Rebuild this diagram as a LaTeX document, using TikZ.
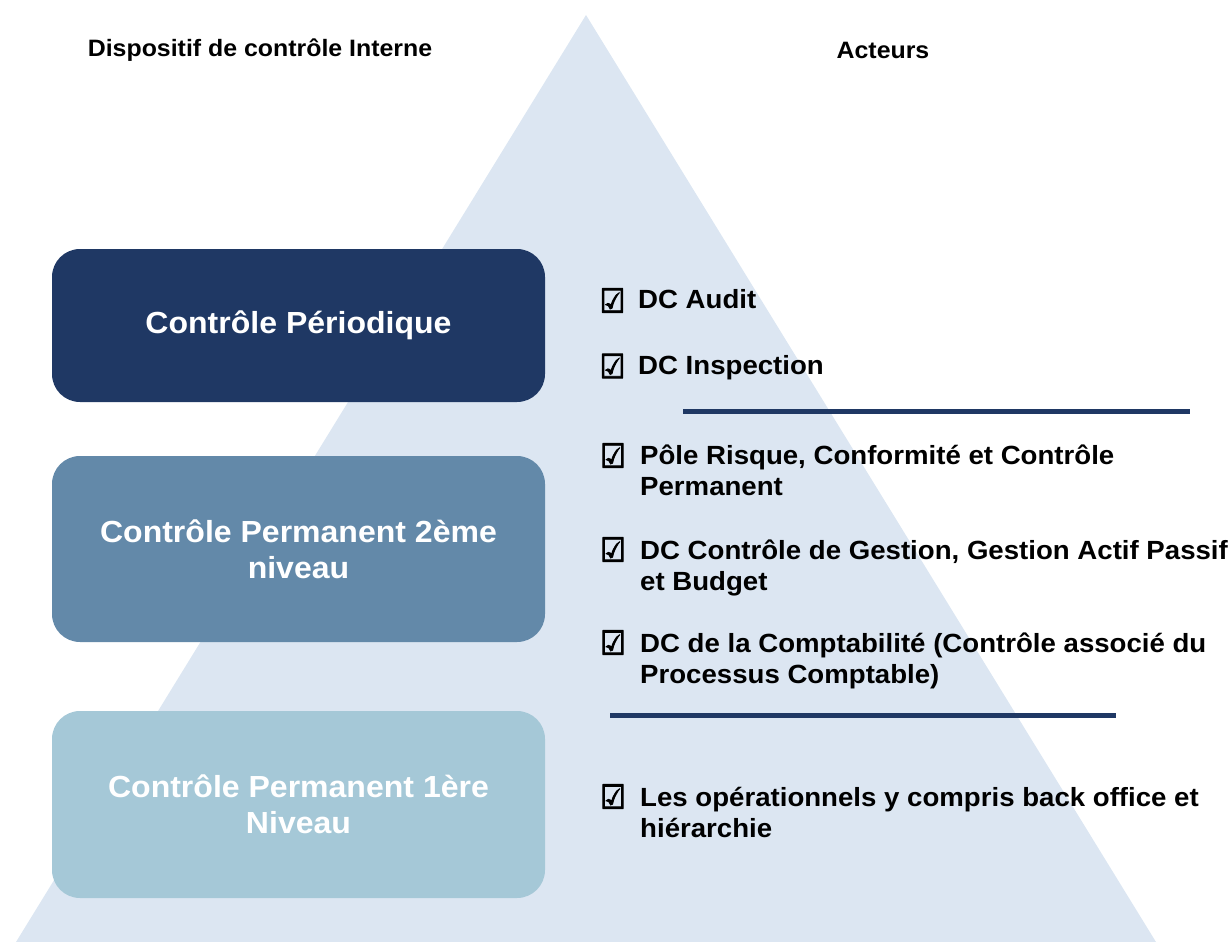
\documentclass[tikz,border=0pt]{standalone}
\usepackage{fontspec}
\setmainfont[FakeStretch=1.05]{Liberation Sans}
\newfontfamily\chkfont[FakeStretch=0.85,FakeBold=3]{DejaVu Sans}
\definecolor{tri}{HTML}{DCE6F2}
\definecolor{navy}{HTML}{1F3864}
\definecolor{steel}{HTML}{6389A9}
\definecolor{pale}{HTML}{A5C8D7}
\tikzset{
  hdr/.style={inner sep=0pt, font=\bfseries\fontsize{23.7}{28}\selectfont, text=black},
  lvlbox/.style={rectangle, rounded corners=28pt, draw=none, minimum width=493pt, inner sep=0pt,
     text=white, align=center, font=\bfseries\fontsize{30.5}{36}\selectfont},
  item/.style={anchor=base west, inner sep=0pt, text=black, font=\bfseries\fontsize{26.3}{31}\selectfont},
  chk/.style={anchor=center, inner sep=0pt, text=black, font=\chkfont\fontsize{33}{33}\selectfont},
  sepline/.style={draw=navy, line width=5pt}
}
\begin{document}
\begin{tikzpicture}[x=1pt,y=-1pt]
\useasboundingbox (0,0) rectangle (1232,942);
% pyramid background
\fill[tri] (586,15) -- (16,942) -- (1156,942) -- cycle;
% headers
\node[hdr] (hdrL) at (260,50) {Dispositif de contrôle Interne};
\node[hdr] (hdrR) at (883,50) {Acteurs};
% level boxes
\node[lvlbox, fill=navy, minimum height=153pt] (box1) at (298.5,325.5) {Contrôle Périodique};
\node[lvlbox, fill=steel, minimum height=186pt] (box2) at (298.5,549) {Contrôle Permanent 2ème\\niveau};
\node[lvlbox, fill=pale, minimum height=187pt] (box3) at (298.5,804.5) {Contrôle Permanent 1ère\\Niveau};
% checkboxes
\node[chk] (cb1) at (612.5,300.5) {☑};
\node[chk] (cb2) at (612.5,366) {☑};
\node[chk] (cb3) at (613,455.5) {☑};
\node[chk] (cb4) at (613,549.5) {☑};
\node[chk] (cb5) at (613,642.5) {☑};
\node[chk] (cb6) at (613,796.5) {☑};
% items
\node[item] (it1) at (638,308) {DC Audit};
\node[item] (it2) at (638,374) {DC Inspection};
\node[item] (it3) at (640,464) {\begin{tabular}[t]{@{}l@{}}Pôle Risque, Conformité et Contrôle\\Permanent\end{tabular}};
\node[item] (it4) at (640,559) {\begin{tabular}[t]{@{}l@{}}DC Contrôle de Gestion, Gestion Actif Passif\\et Budget\end{tabular}};
\node[item] (it5) at (640,652) {\begin{tabular}[t]{@{}l@{}}DC de la Comptabilité (Contrôle associé du\\Processus Comptable)\end{tabular}};
\node[item] (it6) at (640,806) {\begin{tabular}[t]{@{}l@{}}Les opérationnels y compris back office et\\hiérarchie\end{tabular}};
% separators
\coordinate (s1a) at (683,411);
\coordinate (s1b) at (1190,411);
\coordinate (s2a) at (610,715);
\coordinate (s2b) at (1116,715);
\draw[sepline] (s1a) -- (s1b);
\draw[sepline] (s2a) -- (s2b);
\end{tikzpicture}
\end{document}
